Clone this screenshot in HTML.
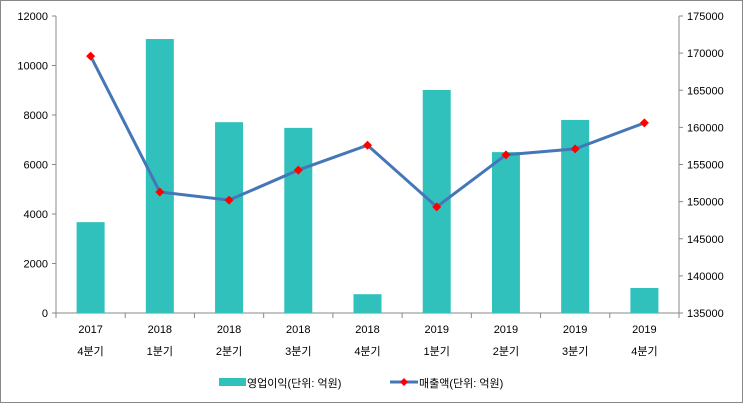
<!DOCTYPE html>
<html><head><meta charset="utf-8"><style>
html,body{margin:0;padding:0;background:#fff}
svg{display:block}
text{font-family:"Liberation Sans","Noto Sans CJK KR",sans-serif;font-size:11px;fill:#000}
</style></head><body>
<svg width="743" height="403">
<rect x="0.5" y="0.5" width="742" height="402" fill="#fff" stroke="#888"/>
<g id="g"></g>
</svg>
<script>
const categories=["2017|4분기","2018|1분기","2018|2분기","2018|3분기","2018|4분기","2019|1분기","2019|2분기","2019|3분기","2019|4분기"];
const profit=[3670,11070,7710,7480,760,9010,6500,7800,1010];
const sales=[169600,151300,150200,154250,157600,149300,156300,157100,160600];
const leftTicks=[0,2000,4000,6000,8000,10000,12000];
const rightTicks=[135000,140000,145000,150000,155000,160000,165000,170000,175000];
const L=56,R=679,T=16,B=313;
const band=(R-L)/categories.length;
const xc=i=>L+band*(i+0.5);
const yl=v=>B-(v/12000)*(B-T);
const yr=v=>B-((v-135000)/40000)*(B-T);
const NS="http://www.w3.org/2000/svg",g=document.getElementById('g');
function mk(t,a,txt){const e=document.createElementNS(NS,t);for(const k in a)e.setAttribute(k,a[k]);if(txt!=null)e.textContent=txt;g.appendChild(e);return e;}
let e=mk('line',{x1:L,y1:T,x2:L,y2:B,stroke:'#888'});

e=mk('line',{x1:R,y1:T,x2:R,y2:B,stroke:'#888'});

e=mk('line',{x1:L,y1:B,x2:R,y2:B,stroke:'#888'});

leftTicks.forEach(v=>{mk('line',{x1:L-4,y1:yl(v),x2:L,y2:yl(v),stroke:'#888'});
e=mk('text',{x:L-8,y:yl(v)+4,'text-anchor':'end'},v);
});
rightTicks.forEach(v=>{mk('line',{x1:R,y1:yr(v),x2:R+4,y2:yr(v),stroke:'#888'});
e=mk('text',{x:R+8,y:yr(v)+4,'text-anchor':'start'},v);
});
for(let i=0;i<=categories.length;i++)mk('line',{x1:L+band*i,y1:B,x2:L+band*i,y2:B+5,stroke:'#888'});
categories.forEach((c,i)=>{const p=c.split('|');
e=mk('text',{x:xc(i),y:333,'text-anchor':'middle'},p[0]);

e=mk('text',{x:xc(i),y:355,'text-anchor':'middle','font-size':'13'},p[1]);
});
profit.forEach((v,i)=>{e=mk('rect',{x:xc(i)-14,y:yl(v),width:28,height:B-yl(v),fill:'#31c1bd'});
});
e=mk('polyline',{points:sales.map((v,i)=>xc(i)+','+yr(v)).join(' '),fill:'none',stroke:'#4577b8','stroke-width':3});

sales.forEach((v,i)=>{const x=xc(i),y=yr(v);
e=mk('polygon',{points:`${x},${y-4.5} ${x+4.5},${y} ${x},${y+4.5} ${x-4.5},${y}`,fill:'#f00'});
});
e=mk('rect',{x:219,y:378,width:27,height:8,fill:'#31c1bd'});

e=mk('text',{x:247,y:387,'font-size':'13'},'영업이익(단위: 억원)');

e=mk('line',{x1:390,y1:382,x2:418,y2:382,stroke:'#4577b8','stroke-width':3});

e=mk('polygon',{points:'404,378 408,382 404,386 400,382',fill:'#f00'});

e=mk('text',{x:419,y:387,'font-size':'13'},'매출액(단위: 억원)');

</script>
</body></html>
